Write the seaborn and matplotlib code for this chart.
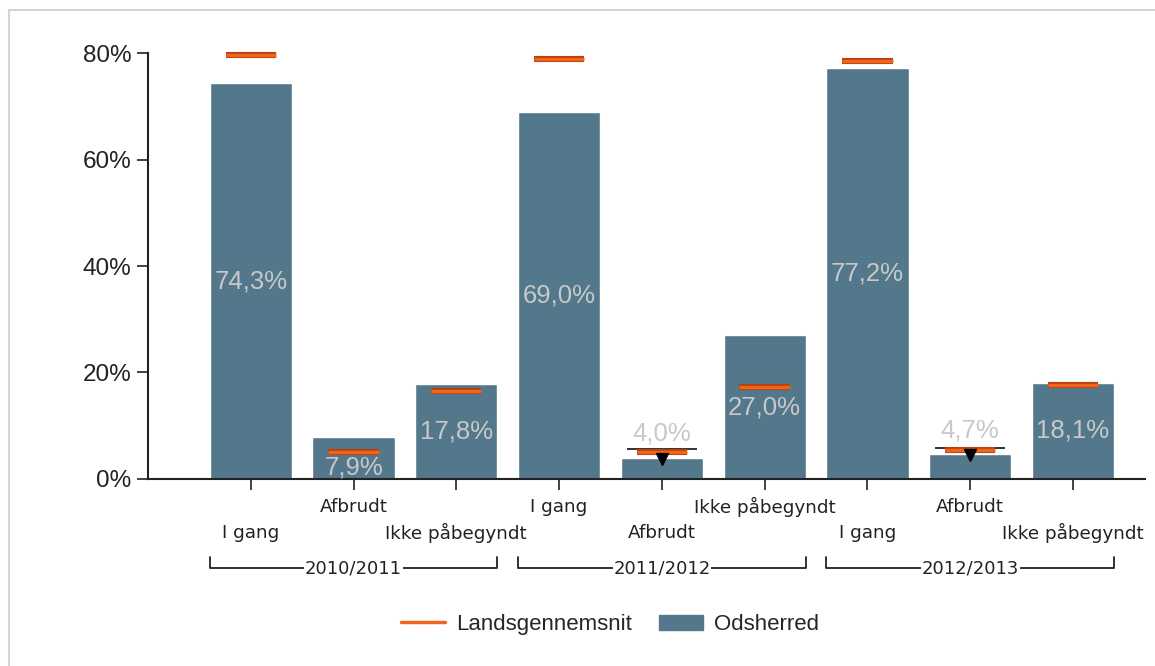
import numpy as np
import pandas as pd
import matplotlib
matplotlib.use("Agg")
import matplotlib.pyplot as plt
import matplotlib.patheffects as pe
from matplotlib.lines import Line2D
from matplotlib.patches import Patch
import seaborn as sns

# data
years = ["2010/2011", "2011/2012", "2012/2013"]
statuses = ["I gang", "Afbrudt", "Ikke påbegyndt"]
odsherred = [74.3, 7.9, 17.8, 69.0, 4.0, 27.0, 77.2, 4.7, 18.1]
landsgns = [79.6, 5.1, 16.5, 78.9, 5.1, 17.3, 78.5, 5.4, 17.7]
sig_idx = [4, 7]          # bars flagged as significantly below average
sig_level = [5.6, 5.8]
value_labels = ["74,3%", "7,9%", "17,8%", "69,0%", "4,0%", "27,0%", "77,2%", "4,7%", "18,1%"]
yticks = [0, 20, 40, 60, 80]

bar_col = "#53788b"
avg_col = "#f0641e"
avg_edge = "#b8420e"

keys = [f"{y} {s}" for y in years for s in statuses]
df = pd.DataFrame({"key": keys, "value": odsherred})

sns.set_theme(style="white")
plt.rcParams["font.family"] = ["Liberation Sans", "DejaVu Sans"]

fig = plt.figure(figsize=(11.55, 6.66), dpi=100)
ax = fig.add_axes([0.1281, 0.2808, 0.8632, 0.6396])

sns.barplot(data=df, x="key", y="value", order=keys, color=bar_col,
            saturation=1, width=0.8, ax=ax)

xs = np.arange(len(keys))
ax.hlines(landsgns, xs - 0.245, xs + 0.245, color=avg_col, lw=2.4, clip_on=False,
          path_effects=[pe.Stroke(linewidth=4.4, foreground=avg_edge), pe.Normal()],
          zorder=4)

for i, lvl in zip(sig_idx, sig_level):
    ax.hlines(lvl, i - 0.34, i + 0.34, color="#222222", lw=1.3, zorder=3)
    ax.plot(i, odsherred[i] - 0.2, marker="v", color="black", ms=9, zorder=5)

for i, (v, lab) in enumerate(zip(odsherred, value_labels)):
    if v < 6:
        yv = v + 4.5
    elif v < 10:
        yv = 2.1
    else:
        yv = v / 2
    ax.text(i, yv, lab, ha="center", va="center", fontsize=18.5, color="#c8c8c8", zorder=6)

ax.set_xlim(-1.0, 8.7)
ax.set_ylim(0, 80)
ax.set_yticks(yticks)
ax.set_yticklabels([f"{t}%" for t in yticks], fontsize=17.5, color="#222222")
ax.set_xticks(xs)
ax.set_xticklabels([""] * len(xs))
ax.set_xlabel("")
ax.set_ylabel("")
ax.tick_params(axis="both", direction="out", length=8, width=1.2, color="#222222",
               bottom=True, left=True)
ax.tick_params(axis="y", pad=4)
for side in ["top", "right"]:
    ax.spines[side].set_visible(False)
for side in ["left", "bottom"]:
    ax.spines[side].set_color("#222222")
    ax.spines[side].set_linewidth(1.5)

trans = ax.get_xaxis_transform()
for i, k in enumerate(keys):
    st = statuses[i % 3]
    yy = -0.066 if i % 2 else -0.127
    ax.text(i, yy, st, transform=trans, ha="center", va="center", fontsize=13.2,
            family=["DejaVu Sans"], color="#222222")

for g, yr in enumerate(years):
    x0, x1 = 3 * g - 0.4, 3 * g + 2.4
    ax.add_line(Line2D([x0, x0, x1, x1], [-0.183, -0.209, -0.209, -0.183], transform=trans,
                       color="#222222", lw=1.3, clip_on=False))
    ax.text(3 * g + 1, -0.209, yr, transform=trans, ha="center", va="center", fontsize=13,
            family=["DejaVu Sans"], color="#222222",
            bbox=dict(facecolor="white", edgecolor="none", pad=0.5))

handles = [Line2D([0], [0], color=avg_col, lw=2.5),
           Patch(facecolor=bar_col, edgecolor=bar_col)]
fig.legend(handles, ["Landsgennemsnit", "Odsherred"], loc="center",
           bbox_to_anchor=(0.528, 0.062), ncol=2, frameon=False, fontsize=16,
           handlelength=2.0, columnspacing=1.2, handletextpad=0.5)

# light frame around the chart area
fig.add_artist(Line2D([9 / 1155, 1.0], [1 - 10 / 666] * 2, color="#d4d4d4", lw=1.5))
fig.add_artist(Line2D([9 / 1155] * 2, [0.0, 1 - 10 / 666], color="#d4d4d4", lw=1.5))

fig.savefig("out.png", dpi=100)
